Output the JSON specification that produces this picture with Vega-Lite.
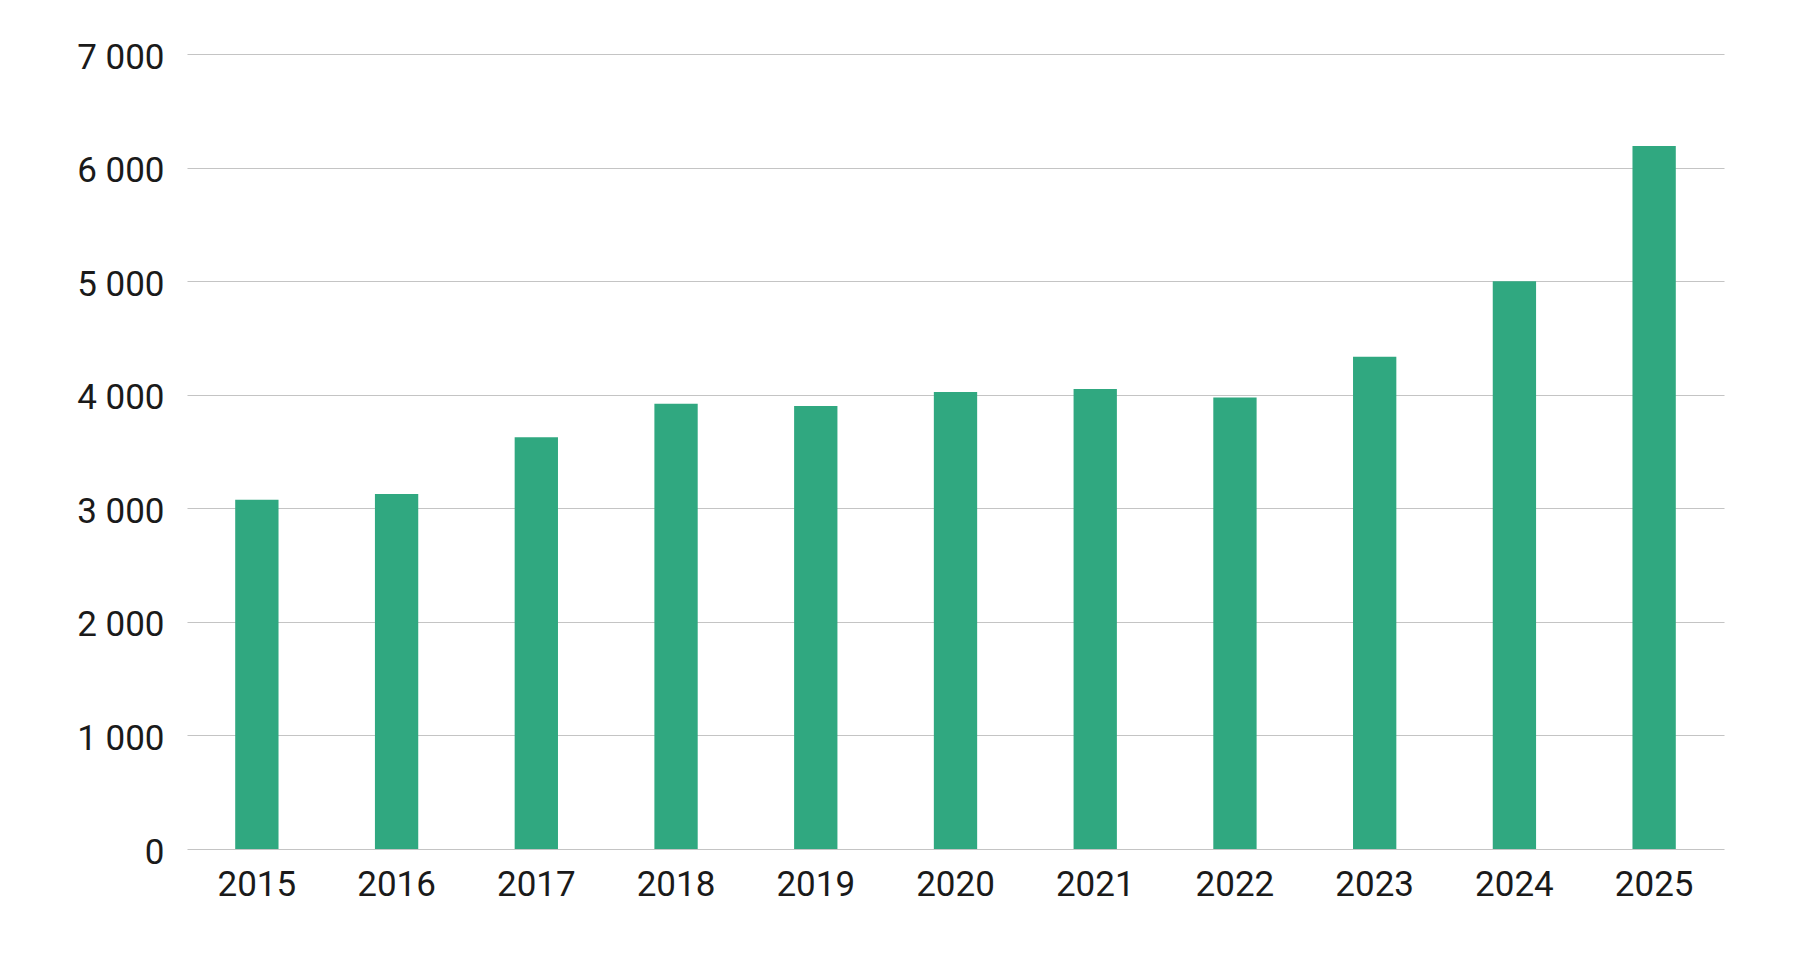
{
  "$schema": "https://vega.github.io/schema/vega-lite/v6.json",
  "autosize": "none",
  "padding": {"left": 187, "top": 54, "right": 76, "bottom": 107},
  "width": 1537,
  "height": 795,
  "background": "white",
  "data": {
    "values": [
      {"year": "2015", "value": 3075},
      {"year": "2016", "value": 3125},
      {"year": "2017", "value": 3625},
      {"year": "2018", "value": 3920},
      {"year": "2019", "value": 3900},
      {"year": "2020", "value": 4025},
      {"year": "2021", "value": 4050},
      {"year": "2022", "value": 3975},
      {"year": "2023", "value": 4335},
      {"year": "2024", "value": 5000},
      {"year": "2025", "value": 6190}
    ]
  },
  "mark": {"type": "bar", "color": "#30a880"},
  "encoding": {
    "x": {
      "field": "year",
      "type": "ordinal",
      "scale": {"paddingInner": 0.69, "paddingOuter": 0.345},
      "axis": {
        "title": null,
        "labelAngle": 0,
        "domain": false,
        "ticks": false,
        "labelPadding": 18,
        "labelFont": "Roboto",
        "labelFontSize": 35,
        "labelColor": "#1a1a1a"
      }
    },
    "y": {
      "field": "value",
      "type": "quantitative",
      "scale": {"domain": [0, 7000], "nice": false},
      "axis": {
        "title": null,
        "values": [0, 1000, 2000, 3000, 4000, 5000, 6000, 7000],
        "labelExpr": "replace(format(datum.value, ','), ',', ' ')",
        "domain": false,
        "ticks": false,
        "labelPadding": 23,
        "labelOffset": 3,
        "labelFont": "Roboto",
        "labelFontSize": 35,
        "labelColor": "#1a1a1a",
        "grid": true,
        "gridColor": "#c4c4c4",
        "gridWidth": 1.2
      }
    }
  },
  "config": {"view": {"stroke": null}}
}
